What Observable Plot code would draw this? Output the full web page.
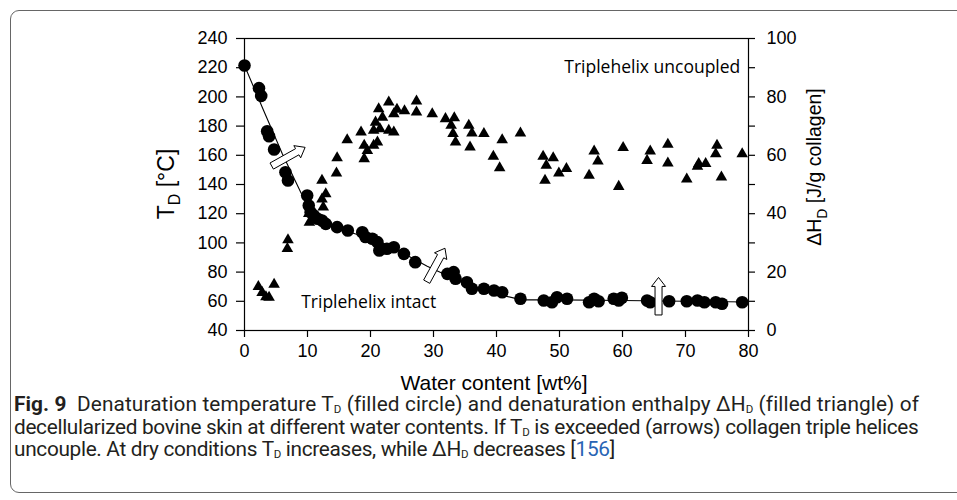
<!DOCTYPE html>
<html><head><meta charset="utf-8">
<script src="https://cdn.jsdelivr.net/npm/d3@7"></script>
<script src="https://cdn.jsdelivr.net/npm/@observablehq/plot@0.6"></script>
<style>
html,body{margin:0;padding:0;background:#fff;}
#frame{position:absolute;left:10px;top:10px;width:960px;height:483px;border:1.5px solid #666;border-radius:9px;box-sizing:border-box;}
#chart{position:absolute;left:0;top:0;}
#caption{position:absolute;left:14px;top:393px;font-family:Roboto,sans-serif;font-size:20.8px;line-height:22.5px;color:#231f20;white-space:nowrap;}
#caption .l1{letter-spacing:0.1px;}
#caption .l2{letter-spacing:-0.32px;}
#caption .l3{letter-spacing:-0.32px;}
#caption sub{font-size:11.5px;vertical-align:-2px;line-height:0;}
#caption a{color:#2864b4;text-decoration:none;}
</style></head>
<body>
<div id="frame"></div>
<div id="chart"></div>
<div id="caption"><span class="l1"><b>Fig. 9</b>&nbsp; Denaturation temperature T<sub>D</sub> (filled circle) and denaturation enthalpy ΔH<sub>D</sub> (filled triangle) of</span><br><span class="l2">decellularized bovine skin at different water contents. If T<sub>D</sub> is exceeded (arrows) collagen triple helices</span><br><span class="l3">uncouple. At dry conditions T<sub>D</sub> increases, while ΔH<sub>D</sub> decreases [<a>156</a>]</span></div>
<script>
// Denaturation temperature T_D (filled circles), left axis
const circleWater = [0, 2.3, 2.65, 3.6, 3.9, 4.7, 6.5, 6.9, 9.95, 10.2, 10.5, 11.0, 11.6, 12.3, 12.9, 14.7, 16.4, 18.7, 19.2, 20.3, 21.1, 21.4, 22.6, 23.7, 25.3, 27.1, 32.2, 33.2, 33.5, 35.3, 36.1, 38.0, 39.6, 40.9, 43.8, 47.5, 48.8, 49.6, 51.2, 54.7, 55.5, 56.2, 58.6, 59.4, 59.9, 63.9, 64.4, 67.4, 70.2, 71.9, 73.0, 74.8, 75.8, 79.0];
const circleTD    = [221.5, 206, 200.7, 176.5, 173, 164, 148.4, 142.7, 132.5, 125.6, 121, 118.8, 116.5, 115.3, 113, 110.8, 108.5, 107.3, 104, 102.8, 100.5, 94.8, 96, 97, 92.5, 86.8, 78.8, 80, 75.4, 73, 68.6, 68.6, 67.4, 66.2, 61.7, 60.5, 59.4, 62.8, 61.7, 59.4, 61.7, 60, 61.7, 60.5, 62.4, 60.5, 59.4, 60, 60, 60.5, 59.4, 59.4, 58.3, 59.4];
// Denaturation enthalpy ΔH_D (filled triangles), right axis
const triWater = [2.2, 2.8, 3.4, 3.9, 4.7, 6.8, 6.9, 10.2, 10.3, 12.3, 12.5, 12.9, 12.3, 14.6, 14.7, 16.3, 18.5, 19.0, 19.0, 19.5, 20.5, 21.1, 20.5, 20.8, 21.3, 21.9, 21.5, 22.9, 22.9, 23.7, 23.7, 24.2, 25.4, 27.3, 27.3, 29.8, 31.9, 33.3, 32.8, 33.1, 33.5, 35.6, 36.1, 35.8, 38.0, 39.5, 40.9, 40.5, 43.8, 47.4, 49.0, 47.9, 49.9, 51.1, 47.7, 54.7, 55.5, 56.1, 59.4, 60.1, 63.9, 64.4, 67.2, 67.2, 70.2, 71.9, 72.1, 73.2, 75.0, 74.8, 75.7, 79.0];
const triDH    = [15, 13, 11.5, 11.3, 15.8, 28, 31, 40, 37, 45, 42.2, 46.8, 51.4, 53.9, 59.1, 65.3, 67.9, 63.4, 58.8, 61.6, 63.4, 64.5, 68.5, 71.3, 75.9, 73, 69, 78.2, 68.5, 67.9, 74.2, 75.7, 75.2, 78.5, 74.8, 74.2, 72.5, 72.8, 70.2, 67.4, 64.5, 70.2, 67.6, 62.8, 67.4, 59.6, 65.3, 55.7, 67.6, 59.6, 59.1, 56.5, 53.9, 55.4, 51.4, 53.1, 61.4, 58, 49.3, 62.6, 58.2, 61.4, 63.7, 57.3, 51.8, 56.2, 57.1, 57.1, 63.4, 60.5, 52.5, 60.5];
// Fitted curve through T_D
const fitWater = [0, 3, 6, 9, 10.5, 12, 14, 17, 20, 23, 26, 29, 32, 35, 38, 41, 44, 50, 60, 70, 80];
const fitTD    = [221.5, 191, 161, 134, 124, 116.5, 111, 107, 103, 98, 91, 84, 78, 72, 68, 64, 61, 61, 60.5, 60, 59.5];
// Arrows (tail -> tip) in data units (water, T_D)
const arrowX1 = [4.4, 29.0, 65.8];
const arrowY1 = [152.3, 73.1, 50.3];
const arrowX2 = [9.7, 31.9, 65.8];
const arrowY2 = [165.1, 96.0, 76.0];
// Ticks
const xTicks = [0, 10, 20, 30, 40, 50, 60, 70, 80];
const leftTicks = [40, 60, 80, 100, 120, 140, 160, 180, 200, 220, 240];
const rightTicks = [0, 10, 20, 30, 40, 50, 60, 70, 80, 90, 100];

// right axis: T = 40 + 2*H
const hToT = h => 40 + 2 * h;
const circles = circleWater.map((w, i) => ({w, t: circleTD[i]}));
const tris = triWater.map((w, i) => ({w, t: hToT(triDH[i])}));
const fit = fitWater.map((w, i) => ({w, t: fitTD[i]}));

const chart = Plot.plot({
  width: 957, height: 395,
  marginLeft: 244, marginRight: 209, marginTop: 38, marginBottom: 65,
  style: {fontFamily: "'Liberation Sans', Arial, sans-serif", fontSize: "18px", color: "#000", background: "transparent", overflow: "visible"},
  x: {domain: [0, 80]},
  y: {domain: [40, 240]},
  marks: [
    Plot.frame({stroke: "#000", strokeWidth: 1.2}),
    Plot.axisX({ticks: xTicks, tickSize: 7, tickPadding: 7, label: null, fontSize: 18, stroke: "#000", strokeWidth: 1.2}),
    Plot.axisY({anchor: "left", ticks: leftTicks, tickSize: 8, tickPadding: 9, label: null, fontSize: 18, stroke: "#000", strokeWidth: 1.2}),
    Plot.axisY({anchor: "right", ticks: rightTicks.map(hToT), tickFormat: d => ((d - 40) / 2) % 20 === 0 ? String((d - 40) / 2) : "", tickSize: 6, tickPadding: 12, label: null, fontSize: 18, stroke: "#000", strokeWidth: 1.2}),
    Plot.line(fit, {x: "w", y: "t", stroke: "#000", strokeWidth: 1.1}),
    Plot.dot(tris, {x: "w", y: "t", symbol: "triangle", r: 4.3, fill: "#000", stroke: "none"}),
    Plot.dot(circles, {x: "w", y: "t", r: 6.3, fill: "#000", stroke: "none"}),
    Plot.text(["Triplehelix uncoupled"], {x: 78.7, y: 220, text: d => d, textAnchor: "end", fontFamily: "'Open Sans', sans-serif", fontSize: 17.5, fill: "#000"}),
    Plot.text(["Triplehelix intact"], {x: 9.0, y: 59, text: d => d, textAnchor: "start", fontFamily: "'Open Sans', sans-serif", fontSize: 17.5, fill: "#000"})
  ]
});
document.getElementById("chart").appendChild(chart);

const sx = chart.scale("x"), sy = chart.scale("y");
const svg = d3.select(chart);
const g = svg.append("g").attr("fill", "#fff").attr("stroke", "#000").attr("stroke-width", 1);
arrowX1.forEach((_, i) => {
  const x1 = sx.apply(arrowX1[i]), y1 = sy.apply(arrowY1[i]);
  const x2 = sx.apply(arrowX2[i]), y2 = sy.apply(arrowY2[i]);
  const dx = x2 - x1, dy = y2 - y1, L = Math.hypot(dx, dy);
  const ux = dx / L, uy = dy / L, nx = -uy, ny = ux;
  const sw = 3.5, hw = 7, hl = 9;
  const bx = x2 - ux * hl, by = y2 - uy * hl;
  const pts = [
    [x1 + nx * sw, y1 + ny * sw], [bx + nx * sw, by + ny * sw], [bx + nx * hw, by + ny * hw],
    [x2, y2], [bx - nx * hw, by - ny * hw], [bx - nx * sw, by - ny * sw], [x1 - nx * sw, y1 - ny * sw]
  ];
  g.append("path").attr("d", "M" + pts.map(p => p.join(",")).join("L") + "Z");
});

// axis titles
const tfont = "'Liberation Sans', Arial, sans-serif";
const lt = svg.append("text").attr("transform", "translate(174,184) rotate(-90)").attr("text-anchor", "middle")
  .attr("font-family", tfont).attr("font-size", 23).attr("fill", "#000");
lt.append("tspan").text("T");
lt.append("tspan").attr("font-size", 16).attr("dy", 6).text("D");
lt.append("tspan").attr("dy", -6).text(" [°C]");
const rt = svg.append("text").attr("transform", "translate(821,167) rotate(-90)").attr("text-anchor", "middle")
  .attr("font-family", tfont).attr("font-size", 19.5).attr("fill", "#000");
rt.append("tspan").text("ΔH");
rt.append("tspan").attr("font-size", 14).attr("dy", 6).text("D");
rt.append("tspan").attr("dy", -6).text(" [J/g collagen]");
svg.append("text").attr("x", 494).attr("y", 390).attr("text-anchor", "middle")
  .attr("font-family", tfont).attr("font-size", 21).attr("fill", "#000").text("Water content [wt%]");
</script>
</body></html>
